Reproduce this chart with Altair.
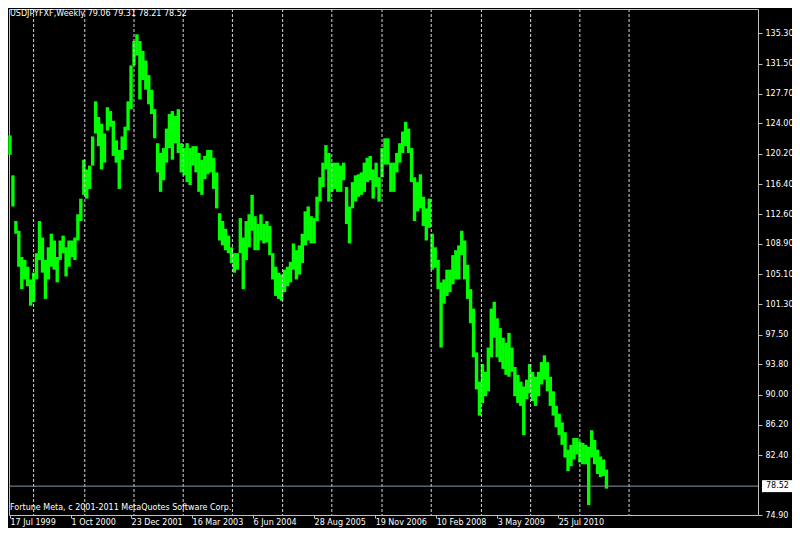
import altair as alt
import pandas as pd

# weekly bar index (1 unit = 1 bar position on the chart), sampled every 3 bars
weeks = list(range(3, 610, 3))

highs = [122.50, 117.49, 111.76, 110.54, 107.25, 106.88, 106.03, 104.44, 105.29, 107.73,
         111.76, 109.69, 106.88, 108.47, 110.17, 109.32, 107.25, 109.32, 109.93, 108.47,
         109.32, 109.32, 109.69, 112.61, 114.57, 119.45, 118.23, 118.71, 122.37, 126.77,
         124.81, 123.96, 122.74, 126.03, 125.55, 124.33, 121.89, 120.67, 122.37, 123.59,
         126.77, 131.28, 134.33, 135.18, 134.33, 133.11, 131.89, 130.06, 128.23, 125.79,
         121.52, 120.30, 120.91, 123.35, 125.18, 125.55, 124.94, 125.79, 121.52, 120.91,
         121.52, 120.91, 121.15, 121.15, 120.30, 119.45, 119.93, 120.67, 120.67, 119.69,
         117.86, 112.74, 111.76, 110.78, 109.93, 108.47, 107.73, 107.73, 112.13, 109.69,
         111.76, 112.61, 115.05, 112.37, 111.39, 112.61, 111.39, 111.76, 111.15, 107.73,
         106.03, 105.29, 105.05, 105.66, 106.03, 106.64, 108.95, 108.10, 108.71, 110.17,
         112.98, 113.59, 112.37, 112.13, 114.81, 117.25, 119.08, 121.28, 120.30, 119.08,
         119.08, 119.08, 118.71, 119.08, 116.03, 113.59, 116.64, 117.49, 117.62, 117.86,
         119.08, 119.69, 119.93, 118.23, 119.08, 117.25, 120.91, 122.13, 122.13, 119.08,
         119.08, 120.30, 121.52, 122.98, 124.20, 123.35, 120.91, 117.25, 116.64, 117.62,
         114.81, 113.35, 114.57, 110.17, 108.47, 106.88, 104.07, 104.44, 105.66, 105.66,
         107.49, 108.10, 108.71, 110.54, 109.32, 106.27, 103.22, 100.78, 95.29, 91.63,
         93.83, 92.85, 95.90, 100.78, 101.63, 99.56, 98.34, 97.12, 96.51, 97.73,
         95.90, 93.46, 92.48, 91.63, 91.02, 91.87, 93.83, 92.85, 92.24, 92.85,
         94.07, 94.92, 94.07, 92.24, 90.41, 88.58, 87.60, 86.51, 85.29, 83.09,
         83.70, 84.55, 84.55, 84.07, 83.94, 83.70, 83.46, 85.53, 84.31, 83.09,
         82.24, 81.87, 80.60]

lows = [120.06, 113.59, 110.17, 106.03, 103.22, 104.44, 103.59, 101.15, 101.63, 104.44,
        106.88, 105.29, 102.00, 104.44, 106.03, 105.66, 104.07, 106.88, 107.73, 104.81,
        106.03, 107.25, 106.88, 109.32, 111.76, 115.05, 114.57, 115.79, 118.71, 122.74,
        121.15, 118.23, 119.08, 123.11, 123.59, 119.93, 119.08, 115.79, 119.45, 120.67,
        123.11, 125.79, 131.28, 132.50, 127.01, 129.45, 128.23, 126.40, 125.18, 122.13,
        117.86, 115.42, 116.88, 119.08, 120.91, 119.45, 121.52, 120.30, 117.86, 117.49,
        116.64, 116.27, 118.71, 117.86, 115.42, 115.05, 117.01, 117.62, 117.86, 115.79,
        113.35, 109.32, 108.71, 108.10, 107.73, 106.51, 105.29, 105.66, 107.73, 103.22,
        106.88, 108.47, 110.54, 108.10, 108.10, 109.32, 108.95, 109.08, 107.49, 104.44,
        102.37, 102.00, 101.76, 102.85, 103.59, 104.07, 105.66, 104.44, 105.05, 106.51,
        108.71, 109.32, 108.95, 108.95, 111.76, 114.20, 116.03, 118.23, 114.20, 115.42,
        115.79, 115.42, 115.42, 116.88, 111.39, 108.95, 113.35, 114.20, 114.81, 115.05,
        115.42, 116.64, 116.88, 114.57, 116.03, 114.20, 117.25, 118.84, 118.84, 115.42,
        115.42, 117.86, 119.08, 120.30, 121.15, 120.30, 116.64, 111.76, 112.98, 113.35,
        111.15, 109.32, 110.91, 105.66, 105.90, 103.22, 95.90, 101.39, 102.37, 102.85,
        103.83, 104.44, 104.44, 107.49, 104.44, 102.00, 98.95, 94.68, 90.65, 87.36,
        88.95, 89.80, 90.41, 94.68, 97.12, 94.68, 94.07, 93.22, 92.48, 92.24,
        92.85, 89.80, 88.95, 88.58, 84.92, 89.43, 90.17, 89.19, 88.58, 89.80,
        91.26, 91.87, 90.41, 88.58, 87.36, 85.90, 84.92, 83.70, 82.11, 80.41,
        81.02, 81.87, 82.48, 81.50, 81.26, 81.26, 76.14, 82.11, 81.26, 80.04,
        79.67, 79.80, 78.21]

year_separators = [27, 79, 129, 179, 229, 280, 330, 381, 431, 482, 532, 582, 632]
date_tick_pos = [3, 65, 126, 188, 250, 312, 374, 436, 498, 560]
date_tick_labels = ["17 Jul 1999", "1 Oct 2000", "23 Dec 2001", "16 Mar 2003", "6 Jun 2004",
                    "28 Aug 2005", "19 Nov 2006", "10 Feb 2008", "3 May 2009", "25 Jul 2010"]
price_ticks = [135.30, 131.50, 127.70, 124.00, 120.20, 116.40, 112.60, 108.90, 105.10,
               101.30, 97.50, 93.80, 90.00, 86.20, 82.40, 74.90]
last_price = 78.52
header_text = "USDJPYFXF,Weekly  79.06 79.31 78.21 78.52"
footer_text = "Fortune Meta, c 2001-2011 MetaQuotes Software Corp."

FONT = "DejaVu Sans"
GRAY = "#c0c0c0"

bars_df = pd.DataFrame({"week": weeks, "high": highs, "low": lows})
sep_df = pd.DataFrame({"week": year_separators})
price_df = pd.DataFrame({"low": [last_price]})

x_scale = alt.Scale(domain=[2, 763], nice=False, zero=False)
y_scale = alt.Scale(domain=[74.90, 138.35], nice=False, zero=False)

label_expr = ("[" + ",".join("'" + s + "'" for s in date_tick_labels) + "]"
              "[indexof([" + ",".join(str(v) for v in date_tick_pos) + "], datum.value)]")

x_axis = alt.Axis(orient="bottom", values=date_tick_pos, labelExpr=label_expr,
                  domain=False, grid=False, title=None, ticks=True,
                  tickColor=GRAY, tickSize=3, labelAlign="left",
                  labelBaseline="top", labelPadding=0, labelColor="#ffffff",
                  labelFont=FONT, labelFontSize=8, labelFlush=False,
                  labelOverlap=False)
y_axis = alt.Axis(orient="right", values=price_ticks, format=".2f",
                  domain=False, grid=False, title=None, tickColor=GRAY,
                  tickSize=4, labelPadding=3, labelColor="#ffffff",
                  labelFont=FONT, labelFontSize=8, labelFlush=False,
                  labelOverlap=False)

X = alt.X("week:Q", scale=x_scale, axis=x_axis)
Y = alt.Y("low:Q", scale=y_scale, axis=y_axis)

bars = alt.Chart(bars_df).mark_rule(color="#00ff00", strokeWidth=3.4).encode(
    x=X, y=Y, y2="high:Q",
)

seps = alt.Chart(sep_df).mark_rule(color="#d8d8d8", strokeDash=[3, 2], strokeWidth=1).encode(
    x=X
)

price_line = alt.Chart(price_df).mark_rule(color="#8a96a3", strokeWidth=1).encode(y=Y)

price_box = alt.Chart(price_df).mark_rule(color="#ffffff", strokeWidth=12, strokeCap="butt").encode(
    x=alt.value(753), x2=alt.value(784), y=Y,
)

price_text = alt.Chart(price_df).mark_text(
    color="#000000", font=FONT, fontSize=8, align="left", baseline="middle"
).encode(
    x=alt.value(757), y=Y,
    text=alt.Text("low:Q", format=".2f"),
)

header = alt.Chart(pd.DataFrame({"t": [header_text]})).mark_text(
    color="#ffffff", font=FONT, fontSize=8, align="left", baseline="middle"
).encode(x=alt.value(1), y=alt.value(5), text="t:N")

footer = alt.Chart(pd.DataFrame({"t": [footer_text]})).mark_text(
    color="#ffffff", font=FONT, fontSize=8, align="left", baseline="middle"
).encode(x=alt.value(1), y=alt.value(499), text="t:N")

chart = alt.layer(bars, seps, price_line, price_box, price_text, header, footer).properties(
    width=749, height=506,
    autosize=alt.AutoSizeParams(type="none"),
    padding={"left": 1, "top": 1, "right": 34, "bottom": 13},
    background="#000000",
).configure_view(stroke=GRAY, strokeWidth=1)

chart.save("out.html", embed_options={"renderer": "svg", "actions": False})
